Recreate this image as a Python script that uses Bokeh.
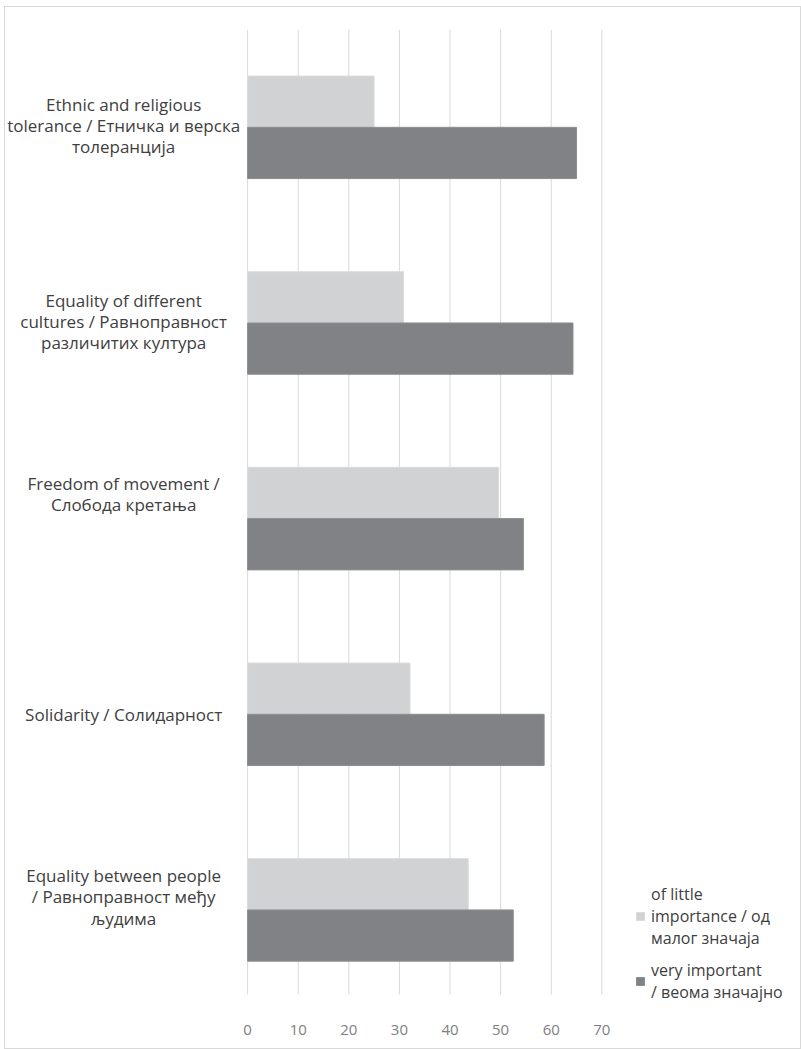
from bokeh.plotting import figure
from bokeh.models import ColumnDataSource, Range1d, FixedTicker, Legend, LegendItem
from bokeh.core.properties import value
from bokeh.embed import file_html
from bokeh.resources import INLINE

categories = [
    "Ethnic and religious\ntolerance / Етничка и верска\nтолеранција",
    "Equality of different\ncultures / Равноправност\nразличитих култура",
    "Freedom of movement /\nСлобода кретања",
    "Solidarity / Солидарност",
    "Equality between people\n/ Равноправност међу\nљудима",
]
little_importance = [25.0, 30.8, 49.6, 32.1, 43.6]
very_important = [65.0, 64.3, 54.5, 58.6, 52.5]
x_ticks = [0, 10, 20, 30, 40, 50, 60, 70]
series_labels = ["of little\nimportance / од\nмалог значаја", "very important\n/ веома значајно"]

FONT = "Open Sans"
n = len(categories)
ypos = [n - i - 0.5 for i in range(n)]
half = 0.131
label_dy = [2, 1.5, 25, 0, 13]  # px upward shift of category labels (layout)

src = ColumnDataSource(dict(
    cat=categories,
    y=ypos,
    y_little=[y + half for y in ypos],
    y_very=[y - half for y in ypos],
    little=little_importance,
    very=very_important,
    lx=[-24.5] * n,
    dy=[-d for d in label_dy],
))

Y_TOP, Y_BOTTOM = 5.0, -0.0294   # frame extent in band units
GRID_BOTTOM = 0.068               # grid lines stop here (plot-area bottom)

p = figure(width=797, height=1043, output_backend="svg", toolbar_location=None,
           x_range=Range1d(-47.85, 109.66), y_range=Range1d(Y_BOTTOM, Y_TOP),
           y_axis_location=None, min_border_left=0, min_border_right=0,
           min_border_top=22, min_border_bottom=37)
p.margin = (6, 0, 0, 4)
p.styles = {"border": "1px solid #D9D9D9"}
p.outline_line_color = None
p.background_fill_color = "white"
p.border_fill_color = "white"
p.xgrid.visible = False
p.ygrid.visible = False

# vertical grid lines at the axis ticks, over the plot area only
p.segment(x0=x_ticks, x1=x_ticks, y0=[GRID_BOTTOM] * len(x_ticks), y1=[Y_TOP] * len(x_ticks),
          line_color="#D9D9D9", line_width=1)

ax = p.xaxis[0]
ax.ticker = FixedTicker(ticks=x_ticks)
ax.axis_line_color = None
ax.major_tick_line_color = None
ax.minor_tick_line_color = None
ax.major_tick_out = 0
ax.major_label_standoff = 11
ax.major_label_text_font = FONT
ax.major_label_text_font_size = "15px"
ax.major_label_text_color = "#808080"

r_little = p.hbar(y="y_little", left=0, right="little", height=0.262, source=src,
                  fill_color="#D1D2D4", line_color="#DADBDC", line_width=1)
r_very = p.hbar(y="y_very", left=0, right="very", height=0.262, source=src,
                fill_color="#818285", line_color="#8C8D90", line_width=1)

p.text(x="lx", y="y", text="cat", source=src, y_offset="dy",
       text_align="center", text_baseline="middle",
       text_font=value(FONT), text_font_size="17px", text_color="#404040",
       text_line_height=0.92)

legend = Legend(items=[
    LegendItem(label=series_labels[0], renderers=[r_little]),
    LegendItem(label=series_labels[1], renderers=[r_very]),
], location=(630, 10))
legend.background_fill_alpha = 0
legend.border_line_color = None
legend.padding = 0
legend.margin = 0
legend.spacing = 10
legend.glyph_width = 10
legend.glyph_height = 10
legend.label_standoff = 6
legend.label_text_font = FONT
legend.label_text_font_size = "16px"
legend.label_text_color = "#404040"
legend.label_text_line_height = 1.1
p.add_layout(legend, "center")

open("out.html", "w").write(file_html(p, INLINE))
